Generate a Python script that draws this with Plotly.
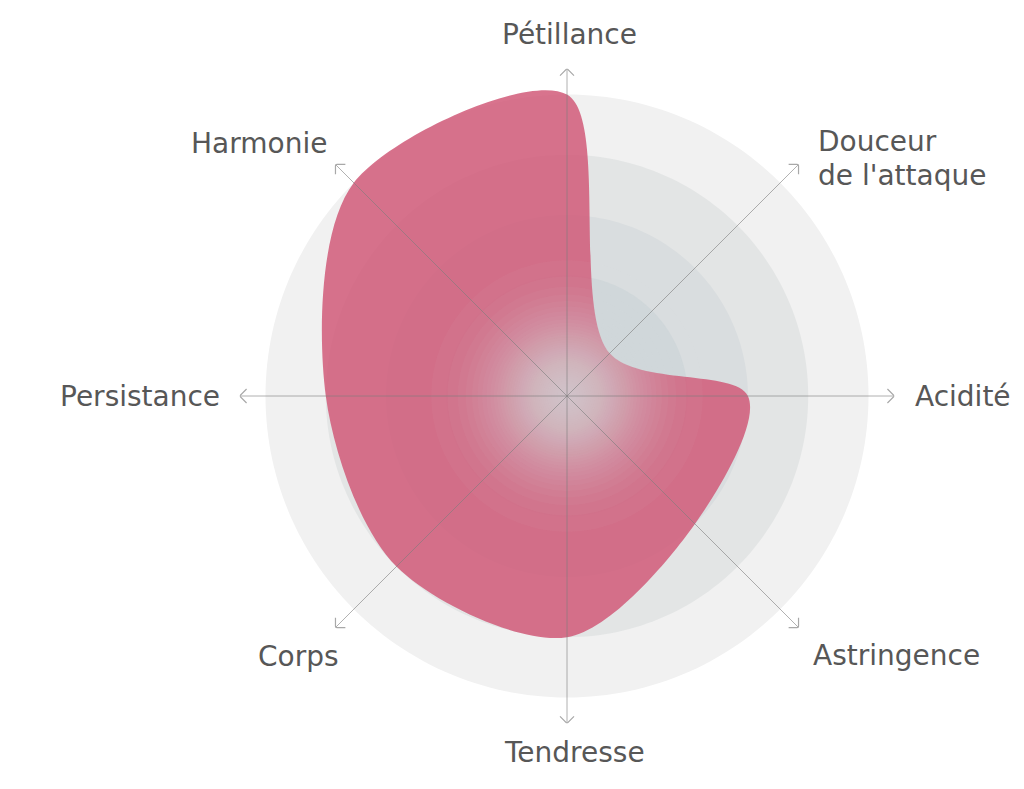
import numpy as np
import plotly.graph_objects as go

CATEGORIES = ["Pétillance", "Douceur de l'attaque", "Acidité", "Astringence",
              "Tendresse", "Corps", "Persistance", "Harmonie"]
VALUES = [5, 1, 3, 3, 4, 4, 4, 5]
RING_LEVELS = [5, 4, 3, 2, 1]
RING_COLORS = ["#f1f1f1", "#e3e5e5", "#d9dddf", "#d0d7da", "#cad2d5"]

W, H = 1024, 789
OFF = 8  # page body margin
CX, CY = 567 - OFF, 396 - OFF
R_MAX = 5.43
PX_PER_UNIT = 60.3
RPX = R_MAX * PX_PER_UNIT

angles = [i * 360 / len(CATEGORIES) for i in range(len(CATEGORIES))]

fig = go.Figure()

# background rings
circ = np.linspace(0, 360, 241)
for lvl, col in zip(RING_LEVELS, RING_COLORS):
    fig.add_trace(go.Scatterpolar(r=[lvl] * len(circ), theta=circ, mode="lines",
                                  fill="toself", fillcolor=col, line=dict(width=0),
                                  hoverinfo="skip", showlegend=False))

# data shape
fig.add_trace(go.Scatterpolar(r=VALUES + VALUES[:1], theta=angles + angles[:1],
                              mode="lines", fill="toself",
                              fillcolor="rgba(208,88,119,0.84)",
                              line=dict(width=0, shape="spline", smoothing=0.9,
                                        color="rgba(208,88,119,0.84)"),
                              showlegend=False, hoverinfo="skip"))

# central glow (stacked translucent discs -> radial gradient)
GA = 0.04
PEAK = 0.8
k = np.arange(1, 80)
cov = 1 - (1 - GA) ** k
cov = cov[cov < PEAK]
glow_r = 1.3 * np.sqrt(-np.log(cov / PEAK))
for rr in glow_r:
    fig.add_trace(go.Scatterpolar(r=[rr] * len(circ), theta=circ, mode="lines",
                                  fill="toself", fillcolor="rgba(240,240,241,0.04)",
                                  line=dict(width=0), hoverinfo="skip", showlegend=False))

# spokes
sr, st = [], []
for a in angles:
    sr += [0, R_MAX, None]
    st += [a, a, None]
fig.add_trace(go.Scatterpolar(r=sr, theta=st, mode="lines", cliponaxis=False,
                              line=dict(color="rgba(125,125,125,0.6)", width=1),
                              hoverinfo="skip", showlegend=False))

# arrow heads
back = 7 / PX_PER_UNIT
rw = float(np.hypot(R_MAX - back, back))
dl = float(np.degrees(np.arctan2(back, R_MAX - back)))
ar, at = [], []
for a in angles:
    ar += [rw, R_MAX, rw, None]
    at += [a - dl, a, a + dl, None]
fig.add_trace(go.Scatterpolar(r=ar, theta=at, mode="lines", cliponaxis=False,
                              line=dict(color="#a8a8a8", width=1.2),
                              hoverinfo="skip", showlegend=False))

fig.update_layout(
    width=W, height=H, margin=dict(l=0, r=0, t=0, b=0),
    paper_bgcolor="white", plot_bgcolor="white", showlegend=False,
    polar=dict(
        domain=dict(x=[(CX - RPX) / W, (CX + RPX) / W],
                    y=[1 - (CY + RPX) / H, 1 - (CY - RPX) / H]),
        bgcolor="rgba(0,0,0,0)",
        radialaxis=dict(range=[0, R_MAX], visible=False),
        angularaxis=dict(rotation=90, direction="clockwise", visible=False),
    ),
)

FONT = dict(family="DejaVu Sans", size=28, color="#575757")
LABELS = [
    (CATEGORIES[0], 569, 34, "center"),
    ("Douceur", 816, 141, "left"),
    ("de l'attaque", 816, 175, "left"),
    (CATEGORIES[2], 913, 396, "left"),
    (CATEGORIES[3], 811, 655, "left"),
    (CATEGORIES[4], 574, 752, "center"),
    (CATEGORIES[5], 341, 656, "right"),
    (CATEGORIES[6], 222, 396, "right"),
    (CATEGORIES[7], 329, 143, "right"),
]
for txt, x, y, al in LABELS:
    fig.add_annotation(text=txt, x=(x - OFF) / W, y=1 - (y - OFF) / H,
                       xref="paper", yref="paper",
                       xanchor=al, yanchor="middle", align=al, showarrow=False,
                       font=FONT)

fig.write_html("out.html")
